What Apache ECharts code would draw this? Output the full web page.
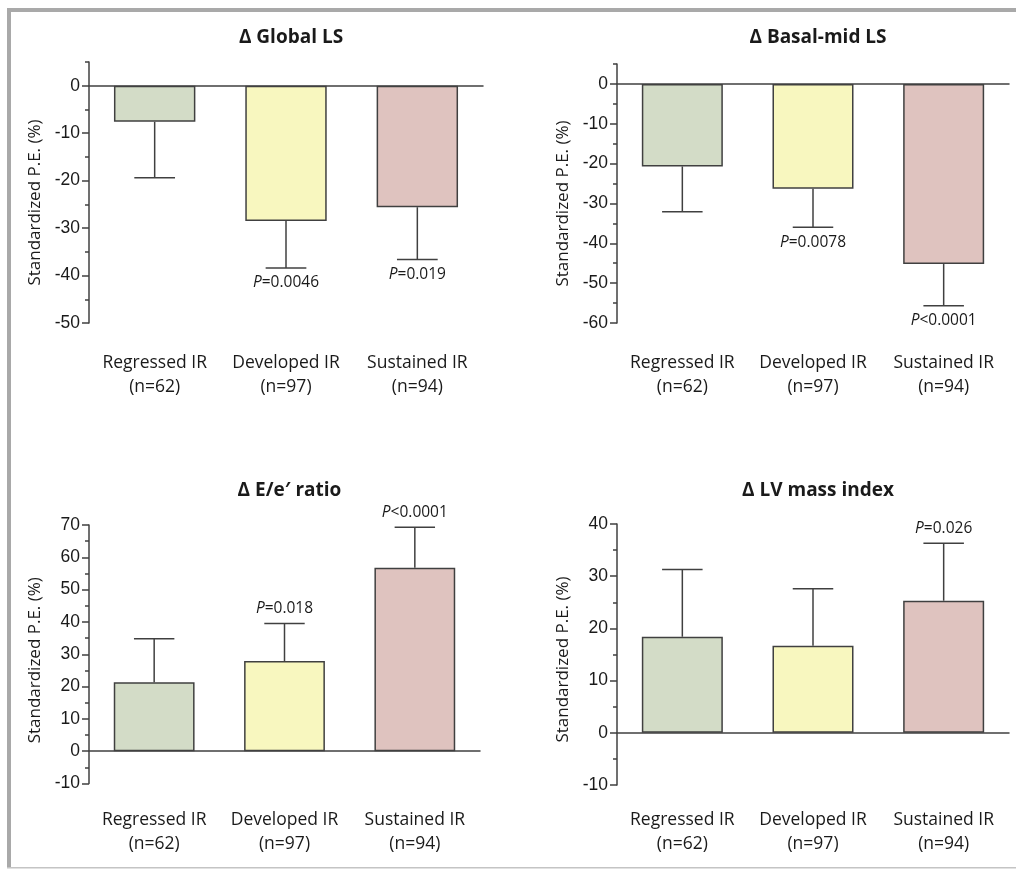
<!DOCTYPE html>
<html>
<head>
<meta charset="utf-8">
<script src="https://cdn.jsdelivr.net/npm/echarts@6/dist/echarts.min.js"></script>
<style>
html,body{margin:0;padding:0;background:#fff;}
#chart{width:1016px;height:869px;}
</style>
</head>
<body>
<div id="chart"></div>
<script>
// ---- data ----
var groupNames = ['Regressed IR', 'Developed IR', 'Sustained IR'];
var groupSizes = ['(n=62)', '(n=97)', '(n=94)'];
var barColors = ['#d3dcc7', '#f8f7bf', '#dfc3bf'];

var panelTitles = ['\u0394 Global LS', '\u0394 Basal-mid LS', '\u0394 E/e\u2032 ratio', '\u0394 LV mass index'];

var globalLS = [-7.6, -28.5, -25.6];
var globalLSErr = [-19.4, -38.4, -36.6];
var globalLSP = [null, '=0.0046', '=0.019'];

var basalMidLS = [-20.7, -26.3, -45.2];
var basalMidLSErr = [-32.1, -36.0, -55.7];
var basalMidLSP = [null, '=0.0078', '<0.0001'];

var eeRatio = [21.3, 27.9, 56.8];
var eeRatioErr = [34.8, 39.5, 69.3];
var eeRatioP = [null, '=0.018', '<0.0001'];

var lvMass = [18.4, 16.7, 25.3];
var lvMassErr = [31.3, 27.6, 36.3];
var lvMassP = [null, null, '=0.026'];

var yMins = [-50, -60, -10, -10];
var yMaxs = [5, 5, 70, 40];

// ---- layout ----
var grids = [
  {left: 89, top: 62, width: 394, height: 261},
  {left: 617, top: 64, width: 392, height: 259},
  {left: 89, top: 525, width: 391, height: 258.5},
  {left: 617, top: 524, width: 392, height: 261}
];
var labelMargins = [28, 28, 24.5, 23];
var nameShift = [20, 20, 12, 10];

var panels = [
  {v: globalLS, e: globalLSErr, p: globalLSP},
  {v: basalMidLS, e: basalMidLSErr, p: basalMidLSP},
  {v: eeRatio, e: eeRatioErr, p: eeRatioP},
  {v: lvMass, e: lvMassErr, p: lvMassP}
];

var lineColor = '#404040';
var sansFont = 'Open Sans';
var tickFont = 'Liberation Sans';

var option = {
  backgroundColor: '#ffffff',
  animation: false,
  title: [],
  grid: [],
  xAxis: [],
  yAxis: [],
  series: [],
  graphic: [
    {type: 'rect', shape: {x: 7, y: 8, width: 1009, height: 4}, style: {fill: '#a9a9a9'}, silent: true},
    {type: 'rect', shape: {x: 7, y: 8, width: 4, height: 860}, style: {fill: '#a9a9a9'}, silent: true},
    {type: 'rect', shape: {x: 7, y: 867, width: 1009, height: 1.5}, style: {fill: '#c4c4c4'}, silent: true}
  ]
};

panels.forEach(function (pd, i) {
  var g = grids[i];
  option.grid.push({left: g.left, top: g.top, width: g.width, height: g.height, containLabel: false});
  option.title.push({
    text: panelTitles[i],
    left: g.left + g.width / 2,
    top: (i < 2 ? 23 : 476),
    textAlign: 'center',
    textStyle: {fontFamily: sansFont, fontSize: 19, fontWeight: 'bold', color: '#1a1a1a'}
  });
  // zero line axis
  option.xAxis.push({
    type: 'category', gridIndex: i, data: groupNames, position: 'bottom',
    axisLine: {show: true, onZero: true, lineStyle: {color: lineColor, width: 1.5}},
    axisTick: {show: false}, axisLabel: {show: false}, splitLine: {show: false}
  });
  // label axis
  option.xAxis.push({
    type: 'category', gridIndex: i, position: 'bottom',
    data: groupNames.map(function (n, j) { return n + '\n' + groupSizes[j]; }),
    axisLine: {show: false, onZero: false}, axisTick: {show: false}, splitLine: {show: false},
    axisLabel: {show: true, margin: labelMargins[i], fontFamily: sansFont, fontSize: 17.5, lineHeight: 24, color: '#1a1a1a', interval: 0}
  });
  // major y axis
  option.yAxis.push({
    type: 'value', gridIndex: i, position: 'left', min: yMins[i], max: yMaxs[i], interval: 10,
    name: 'Standardized P.E. (%)', nameLocation: 'middle', nameRotate: 90, nameGap: 45,
    nameTextStyle: {fontFamily: sansFont, fontSize: 17, color: '#1a1a1a', padding: [0, nameShift[i], 0, 0]},
    axisLine: {show: true, onZero: false, lineStyle: {color: lineColor, width: 1.5}},
    axisTick: {show: true, inside: false, length: 7, lineStyle: {color: lineColor, width: 1.5}},
    axisLabel: {show: true, margin: 9, fontFamily: tickFont, fontSize: 17.5, color: '#1a1a1a', showMaxLabel: (yMaxs[i] % 10 === 0)},
    splitLine: {show: false}
  });
  // minor y axis (5-step ticks)
  option.yAxis.push({
    type: 'value', gridIndex: i, position: 'left', min: yMins[i], max: yMaxs[i], interval: 5,
    axisLine: {show: false, onZero: false},
    axisTick: {show: true, inside: false, length: 4, lineStyle: {color: lineColor, width: 1.5}},
    axisLabel: {show: false}, splitLine: {show: false}
  });

  option.series.push({
    type: 'bar', xAxisIndex: 2 * i, yAxisIndex: 2 * i,
    barWidth: '62%',
    data: pd.v.map(function (v, j) {
      return {value: v, itemStyle: {color: barColors[j], borderColor: lineColor, borderWidth: 1.5}};
    }),
    z: 2
  });

  option.series.push({
    type: 'custom', xAxisIndex: 2 * i, yAxisIndex: 2 * i,
    encode: {x: 0, y: [1, 2]},
    data: pd.v.map(function (v, j) { return [j, v, pd.e[j]]; }),
    z: 3,
    renderItem: (function (pv) {
      return function (params, api) {
        var idx = api.value(0);
        var start = api.coord([idx, api.value(1)]);
        var end = api.coord([idx, api.value(2)]);
        var half = api.size([1, 0])[0] * 0.155;
        var children = [
          {type: 'line', shape: {x1: start[0], y1: start[1], x2: end[0], y2: end[1]},
            style: {stroke: lineColor, lineWidth: 1.5}},
          {type: 'line', shape: {x1: end[0] - half, y1: end[1], x2: end[0] + half, y2: end[1]},
            style: {stroke: lineColor, lineWidth: 1.5}}
        ];
        var txt = pv[idx];
        if (txt) {
          var dir = api.value(2) < 0 ? 1 : -1;
          children.push({
            type: 'text',
            style: {
              text: '{i|P}{n|' + txt + '}',
              x: end[0], y: end[1] + dir * 15,
              align: 'center', verticalAlign: 'middle',
              rich: {
                i: {fontFamily: sansFont, fontSize: 15.5, fontStyle: 'italic', fill: '#1a1a1a', color: '#1a1a1a'},
                n: {fontFamily: sansFont, fontSize: 15.5, fill: '#1a1a1a', color: '#1a1a1a'}
              }
            }
          });
        }
        return {type: 'group', children: children};
      };
    })(pd.p)
  });
});

var chart = echarts.init(document.getElementById('chart'), null, {renderer: 'canvas'});
chart.setOption(option);
</script>
</body>
</html>
